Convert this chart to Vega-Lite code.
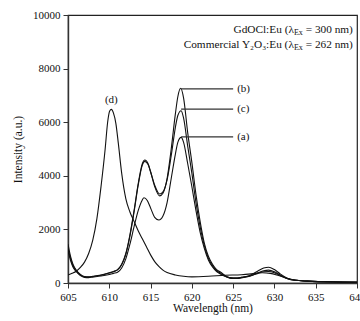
{
  "$schema": "https://vega.github.io/schema/vega-lite/v6.json",
  "width": 289,
  "height": 268,
  "autosize": {"type": "none"},
  "padding": {"left": 68, "top": 15, "right": 3, "bottom": 38},
  "background": "white",
  "config": {
    "font": "Liberation Serif",
    "view": {"stroke": "#222", "strokeWidth": 1.2},
    "axis": {
      "grid": false,
      "domainColor": "#333",
      "domainWidth": 1.4,
      "tickColor": "#333",
      "tickSize": 5,
      "labelColor": "#111",
      "titleColor": "#111",
      "labelFont": "Liberation Serif",
      "titleFont": "Liberation Serif",
      "labelFontSize": 11,
      "titleFontSize": 11.5,
      "titleFontWeight": "normal",
      "labelFlush": false,
      "labelOverlap": false
    }
  },
  "datasets": {
    "spectra": [
      {"s":"d","wl":605,"I":300},{"s":"d","wl":605.5,"I":360},{"s":"d","wl":606,"I":440},{"s":"d","wl":606.5,"I":580},{"s":"d","wl":607,"I":780},{"s":"d","wl":607.5,"I":1100},{"s":"d","wl":608,"I":1600},{"s":"d","wl":608.5,"I":2400},{"s":"d","wl":609,"I":3600},{"s":"d","wl":609.5,"I":5000},{"s":"d","wl":609.8,"I":6000},{"s":"d","wl":610.05,"I":6420},{"s":"d","wl":610.25,"I":6480},{"s":"d","wl":610.5,"I":6350},{"s":"d","wl":610.8,"I":5950},{"s":"d","wl":611.1,"I":5200},{"s":"d","wl":611.5,"I":4100},{"s":"d","wl":612,"I":3150},{"s":"d","wl":612.5,"I":2650},{"s":"d","wl":613,"I":2300},{"s":"d","wl":613.5,"I":1950},{"s":"d","wl":614,"I":1650},{"s":"d","wl":614.5,"I":1350},{"s":"d","wl":615,"I":1050},{"s":"d","wl":615.5,"I":800},{"s":"d","wl":616,"I":620},{"s":"d","wl":616.5,"I":480},{"s":"d","wl":617,"I":390},{"s":"d","wl":618,"I":300},{"s":"d","wl":619,"I":250},{"s":"d","wl":620,"I":230},{"s":"d","wl":622,"I":250},{"s":"d","wl":624,"I":290},{"s":"d","wl":626,"I":310},{"s":"d","wl":627.5,"I":350},{"s":"d","wl":628.5,"I":380},{"s":"d","wl":629.5,"I":360},{"s":"d","wl":630.5,"I":280},{"s":"d","wl":631.5,"I":180},{"s":"d","wl":632.5,"I":110},{"s":"d","wl":634,"I":70},{"s":"d","wl":636,"I":50},{"s":"d","wl":640,"I":40},

      {"s":"b","wl":605,"I":1450},{"s":"b","wl":605.3,"I":1000},{"s":"b","wl":605.6,"I":700},{"s":"b","wl":606,"I":480},{"s":"b","wl":606.5,"I":320},{"s":"b","wl":607,"I":240},{"s":"b","wl":607.5,"I":230},{"s":"b","wl":608,"I":250},{"s":"b","wl":609,"I":300},{"s":"b","wl":610,"I":380},{"s":"b","wl":610.5,"I":430},{"s":"b","wl":611,"I":500},{"s":"b","wl":611.5,"I":700},{"s":"b","wl":612,"I":1100},{"s":"b","wl":612.5,"I":1800},{"s":"b","wl":613,"I":2700},{"s":"b","wl":613.5,"I":3700},{"s":"b","wl":614,"I":4450},{"s":"b","wl":614.3,"I":4590},{"s":"b","wl":614.7,"I":4450},{"s":"b","wl":615,"I":4150},{"s":"b","wl":615.5,"I":3600},{"s":"b","wl":616.1,"I":3250},{"s":"b","wl":616.5,"I":3350},{"s":"b","wl":617,"I":3900},{"s":"b","wl":617.5,"I":5000},{"s":"b","wl":618,"I":6300},{"s":"b","wl":618.3,"I":6950},{"s":"b","wl":618.64,"I":7265},{"s":"b","wl":619,"I":6900},{"s":"b","wl":619.5,"I":5600},{"s":"b","wl":620,"I":4500},{"s":"b","wl":620.5,"I":3300},{"s":"b","wl":621,"I":2300},{"s":"b","wl":621.5,"I":1500},{"s":"b","wl":622,"I":1000},{"s":"b","wl":622.5,"I":700},{"s":"b","wl":623,"I":500},{"s":"b","wl":623.5,"I":400},{"s":"b","wl":624,"I":280},{"s":"b","wl":624.5,"I":200},{"s":"b","wl":625,"I":170},{"s":"b","wl":625.5,"I":170},{"s":"b","wl":626,"I":190},{"s":"b","wl":627,"I":250},{"s":"b","wl":628,"I":380},{"s":"b","wl":628.7,"I":460},{"s":"b","wl":629.3,"I":480},{"s":"b","wl":630,"I":420},{"s":"b","wl":630.7,"I":300},{"s":"b","wl":631.5,"I":170},{"s":"b","wl":632.5,"I":100},{"s":"b","wl":634,"I":70},{"s":"b","wl":637,"I":40},{"s":"b","wl":640,"I":30},

      {"s":"c","wl":605,"I":1300},{"s":"c","wl":605.3,"I":920},{"s":"c","wl":605.6,"I":650},{"s":"c","wl":606,"I":450},{"s":"c","wl":606.5,"I":300},{"s":"c","wl":607,"I":230},{"s":"c","wl":607.5,"I":220},{"s":"c","wl":608,"I":240},{"s":"c","wl":609,"I":290},{"s":"c","wl":610,"I":370},{"s":"c","wl":610.5,"I":420},{"s":"c","wl":611,"I":490},{"s":"c","wl":611.5,"I":680},{"s":"c","wl":612,"I":1070},{"s":"c","wl":612.5,"I":1750},{"s":"c","wl":613,"I":2650},{"s":"c","wl":613.5,"I":3650},{"s":"c","wl":614,"I":4400},{"s":"c","wl":614.3,"I":4540},{"s":"c","wl":614.7,"I":4420},{"s":"c","wl":615,"I":4150},{"s":"c","wl":615.5,"I":3650},{"s":"c","wl":616.1,"I":3320},{"s":"c","wl":616.5,"I":3400},{"s":"c","wl":617,"I":3850},{"s":"c","wl":617.5,"I":4750},{"s":"c","wl":618,"I":5800},{"s":"c","wl":618.3,"I":6250},{"s":"c","wl":618.7,"I":6430},{"s":"c","wl":619,"I":6150},{"s":"c","wl":619.5,"I":5100},{"s":"c","wl":620,"I":4100},{"s":"c","wl":620.5,"I":3000},{"s":"c","wl":621,"I":2100},{"s":"c","wl":621.5,"I":1400},{"s":"c","wl":622,"I":920},{"s":"c","wl":622.5,"I":650},{"s":"c","wl":623,"I":460},{"s":"c","wl":623.5,"I":360},{"s":"c","wl":624,"I":260},{"s":"c","wl":624.5,"I":200},{"s":"c","wl":625,"I":180},{"s":"c","wl":625.5,"I":180},{"s":"c","wl":626,"I":210},{"s":"c","wl":627,"I":280},{"s":"c","wl":628,"I":450},{"s":"c","wl":628.7,"I":560},{"s":"c","wl":629.3,"I":590},{"s":"c","wl":630,"I":500},{"s":"c","wl":630.7,"I":340},{"s":"c","wl":631.5,"I":190},{"s":"c","wl":632.5,"I":100},{"s":"c","wl":634,"I":70},{"s":"c","wl":637,"I":40},{"s":"c","wl":640,"I":30},

      {"s":"a","wl":605,"I":1200},{"s":"a","wl":605.3,"I":850},{"s":"a","wl":605.6,"I":600},{"s":"a","wl":606,"I":420},{"s":"a","wl":606.5,"I":280},{"s":"a","wl":607,"I":210},{"s":"a","wl":607.5,"I":200},{"s":"a","wl":608,"I":220},{"s":"a","wl":609,"I":260},{"s":"a","wl":610,"I":320},{"s":"a","wl":610.5,"I":360},{"s":"a","wl":611,"I":400},{"s":"a","wl":611.5,"I":560},{"s":"a","wl":612,"I":900},{"s":"a","wl":612.5,"I":1450},{"s":"a","wl":613,"I":2100},{"s":"a","wl":613.5,"I":2700},{"s":"a","wl":614,"I":3100},{"s":"a","wl":614.2,"I":3180},{"s":"a","wl":614.6,"I":3080},{"s":"a","wl":615,"I":2800},{"s":"a","wl":615.5,"I":2450},{"s":"a","wl":616,"I":2350},{"s":"a","wl":616.5,"I":2500},{"s":"a","wl":617,"I":3000},{"s":"a","wl":617.5,"I":3900},{"s":"a","wl":618,"I":4800},{"s":"a","wl":618.3,"I":5250},{"s":"a","wl":618.7,"I":5435},{"s":"a","wl":619,"I":5250},{"s":"a","wl":619.5,"I":4450},{"s":"a","wl":620,"I":3600},{"s":"a","wl":620.5,"I":2700},{"s":"a","wl":621,"I":1900},{"s":"a","wl":621.5,"I":1300},{"s":"a","wl":622,"I":860},{"s":"a","wl":622.5,"I":600},{"s":"a","wl":623,"I":430},{"s":"a","wl":623.5,"I":330},{"s":"a","wl":624,"I":250},{"s":"a","wl":624.5,"I":200},{"s":"a","wl":625,"I":190},{"s":"a","wl":625.5,"I":190},{"s":"a","wl":626,"I":210},{"s":"a","wl":627,"I":260},{"s":"a","wl":628,"I":360},{"s":"a","wl":628.7,"I":420},{"s":"a","wl":629.3,"I":430},{"s":"a","wl":630,"I":380},{"s":"a","wl":630.7,"I":280},{"s":"a","wl":631.5,"I":170},{"s":"a","wl":632.5,"I":100},{"s":"a","wl":634,"I":70},{"s":"a","wl":637,"I":40},{"s":"a","wl":640,"I":30}
    ],
    "leaders": [
      {"lab":"(b)","x0":618.64,"wl":625.0,"I":7240},
      {"lab":"(c)","x0":618.7,"wl":625.0,"I":6490},
      {"lab":"(a)","x0":618.7,"wl":625.0,"I":5450}
    ],
    "dlabel": [
      {"lab":"(d)","wl":610.25,"I":6820}
    ],
    "legend": [
      {"wl":639.5,"I":9440,"pre":"GdOCl:Eu (λ","sub":"Ex","suf":" = 300 nm)"},
      {"wl":639.5,"I":8880,"pre":"Commercial Y₂O₃:Eu (λ","sub":"Ex","suf":" = 262 nm)"}
    ]
  },
  "layer": [
    {
      "data": {"name": "spectra"},
      "mark": {"type": "line", "interpolate": "monotone", "color": "#111", "strokeWidth": 1.1, "clip": true},
      "encoding": {
        "x": {"field": "wl", "type": "quantitative", "title": "Wavelength (nm)",
              "scale": {"domain": [605, 640], "nice": false, "zero": false},
              "axis": {"values": [605,610,615,620,625,630,635,640], "format": "d", "labelPadding": 3, "titlePadding": 0}},
        "y": {"field": "I", "type": "quantitative", "title": "Intensity (a.u.)",
              "scale": {"domain": [0, 10000], "nice": false},
              "axis": {"values": [0,2000,4000,6000,8000,10000], "format": "d", "labelPadding": 3, "titlePadding": 9}},
        "detail": {"field": "s"}
      }
    },
    {
      "data": {"name": "leaders"},
      "mark": {"type": "rule", "color": "#333", "strokeWidth": 1.2},
      "encoding": {
        "x": {"field": "x0", "type": "quantitative", "title": "Wavelength (nm)"},
        "x2": {"field": "wl"},
        "y": {"field": "I", "type": "quantitative", "title": "Intensity (a.u.)"}
      }
    },
    {
      "data": {"name": "leaders"},
      "mark": {"type": "text", "align": "left", "baseline": "middle", "dx": 4, "fontSize": 11, "font": "Liberation Serif", "color": "#111"},
      "encoding": {
        "x": {"field": "wl", "type": "quantitative", "title": "Wavelength (nm)"},
        "y": {"field": "I", "type": "quantitative", "title": "Intensity (a.u.)"},
        "text": {"field": "lab"}
      }
    },
    {
      "data": {"name": "dlabel"},
      "mark": {"type": "text", "align": "center", "baseline": "middle", "fontSize": 11, "font": "Liberation Serif", "color": "#111"},
      "encoding": {
        "x": {"field": "wl", "type": "quantitative", "title": "Wavelength (nm)"},
        "y": {"field": "I", "type": "quantitative", "title": "Intensity (a.u.)"},
        "text": {"field": "lab"}
      }
    },
    {
      "data": {"name": "legend"},
      "mark": {"type": "text", "align": "right", "baseline": "middle", "fontSize": 11.3, "font": "Liberation Serif", "color": "#111"},
      "encoding": {
        "x": {"field": "wl", "type": "quantitative", "title": "Wavelength (nm)"},
        "y": {"field": "I", "type": "quantitative", "title": "Intensity (a.u.)"},
        "text": {"field": "suf"}
      }
    },
    {
      "data": {"name": "legend"},
      "mark": {"type": "text", "align": "right", "baseline": "middle", "dx": -50, "dy": 3, "fontSize": 8, "font": "Liberation Serif", "color": "#111"},
      "encoding": {
        "x": {"field": "wl", "type": "quantitative", "title": "Wavelength (nm)"},
        "y": {"field": "I", "type": "quantitative", "title": "Intensity (a.u.)"},
        "text": {"field": "sub"}
      }
    },
    {
      "data": {"name": "legend"},
      "mark": {"type": "text", "align": "right", "baseline": "middle", "dx": -59, "fontSize": 11.3, "font": "Liberation Serif", "color": "#111"},
      "encoding": {
        "x": {"field": "wl", "type": "quantitative", "title": "Wavelength (nm)"},
        "y": {"field": "I", "type": "quantitative", "title": "Intensity (a.u.)"},
        "text": {"field": "pre"}
      }
    }
  ]
}
